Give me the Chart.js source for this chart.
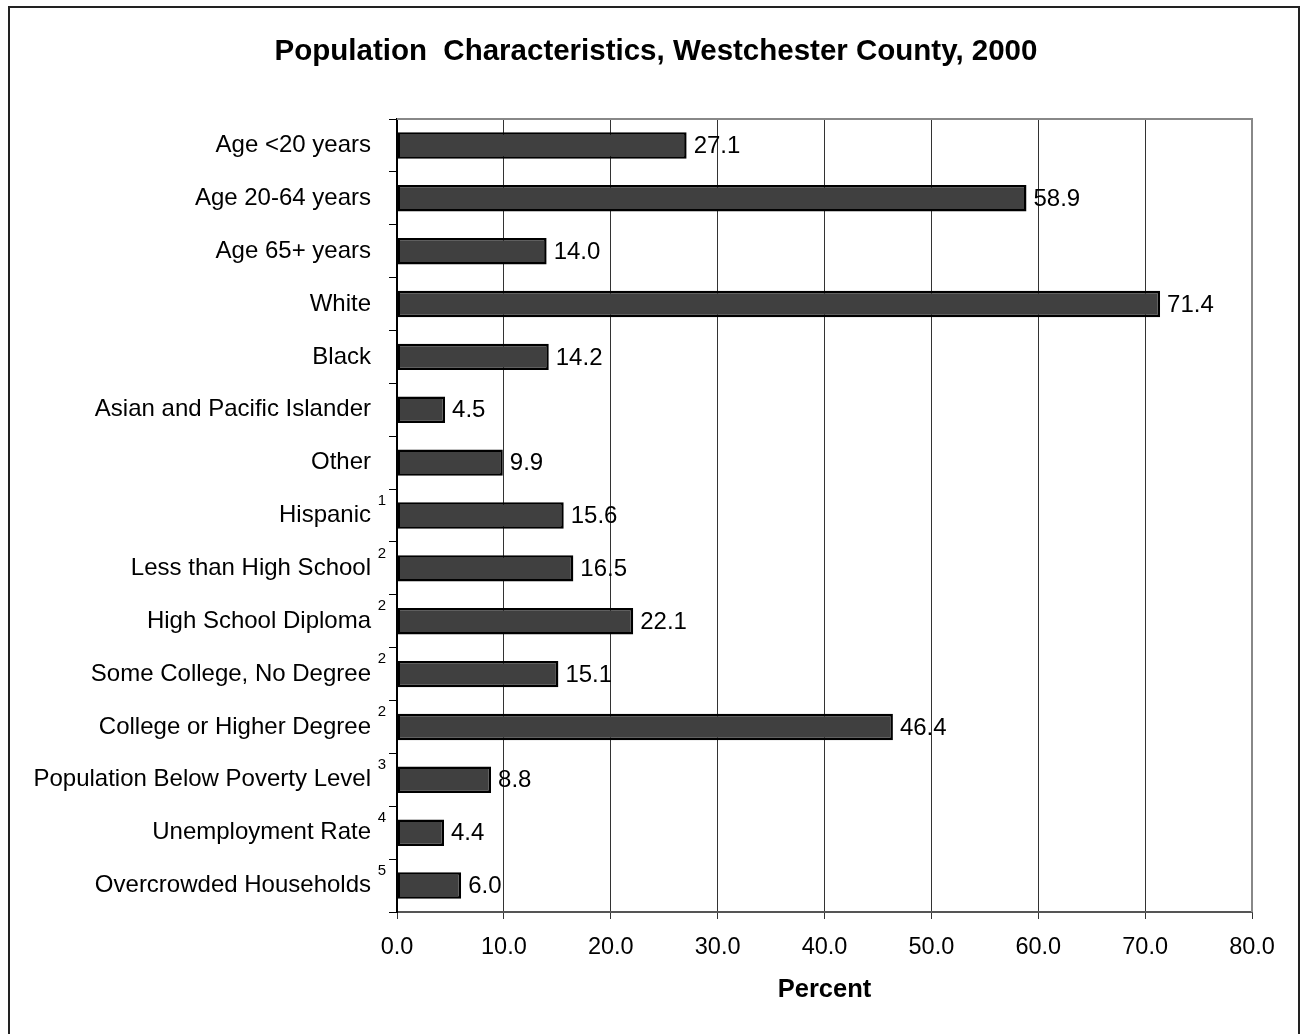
<!DOCTYPE html>
<html lang="en">
<head>
    <meta charset="UTF-8">
    <title>Population Characteristics, Westchester County, 2000</title>
    <script src="https://cdn.jsdelivr.net/npm/chart.js"></script>
    <style>
        html, body { margin: 0; padding: 0; background: #fff; }
        #wrap { width: 1301px; height: 1034px; }
    </style>
</head>
<body>
    <div id="wrap">
        <canvas id="chart" width="1301" height="1034"></canvas>
    </div>

    <script>
        const categories = [
            'Age <20 years', 'Age 20-64 years', 'Age 65+ years', 'White', 'Black',
            'Asian and Pacific Islander', 'Other', 'Hispanic', 'Less than High School',
            'High School Diploma', 'Some College, No Degree', 'College or Higher Degree',
            'Population Below Poverty Level', 'Unemployment Rate', 'Overcrowded Households'
        ];
        const footnotes = ['', '', '', '', '', '', '', '1', '2', '2', '2', '2', '3', '4', '5'];
        const percents = [27.1, 58.9, 14.0, 71.4, 14.2, 4.5, 9.9, 15.6, 16.5, 22.1, 15.1, 46.4, 8.8, 4.4, 6.0];

        const FONT = '"Liberation Sans", Arial, sans-serif';

        // title, frame, plot border, value labels, footnote marks
        const decorations = {
            id: 'decorations',
            beforeDraw(chart) {
                const ctx = chart.ctx;
                ctx.save();
                ctx.fillStyle = '#fff';
                ctx.fillRect(0, 0, chart.width, chart.height);
                ctx.restore();
            },
            afterDraw(chart) {
                const ctx = chart.ctx;
                const area = chart.chartArea;
                const yScale = chart.scales.y;
                ctx.save();

                // outer frame
                ctx.strokeStyle = '#222';
                ctx.lineWidth = 2;
                ctx.strokeRect(9, 7, 1290, 1100);

                // grey top / right edges of the plot
                ctx.strokeStyle = '#888';
                ctx.lineWidth = 2;
                ctx.beginPath();
                ctx.moveTo(area.left, area.top);
                ctx.lineTo(area.right, area.top);
                ctx.lineTo(area.right, area.bottom);
                ctx.stroke();

                // title
                ctx.fillStyle = '#000';
                ctx.font = 'bold 29.5px ' + FONT;
                ctx.textAlign = 'center';
                ctx.textBaseline = 'middle';
                ctx.fillText('Population  Characteristics, Westchester County, 2000', 656, 52);

                // value labels
                ctx.font = '24px ' + FONT;
                ctx.textAlign = 'left';
                chart.getDatasetMeta(0).data.forEach((bar, i) => {
                    ctx.fillText(percents[i].toFixed(1), bar.x + 7, bar.y + 1);
                });

                // footnote marks next to the category labels
                ctx.font = '15px ' + FONT;
                ctx.textAlign = 'center';
                footnotes.forEach((f, i) => {
                    if (!f) return;
                    ctx.fillText(f, 382, yScale.getPixelForValue(i) - 15);
                });
                ctx.restore();
            }
        };

        new Chart(document.getElementById('chart'), {
            type: 'bar',
            data: {
                labels: categories,
                datasets: [{
                    data: percents,
                    backgroundColor: '#404040',
                    borderColor: '#000',
                    borderWidth: 2.5,
                    borderSkipped: false,
                    barPercentage: 0.5,
                    categoryPercentage: 1
                }]
            },
            options: {
                indexAxis: 'y',
                responsive: false,
                animation: false,
                layout: { padding: { top: 119, right: 49, bottom: 0, left: 0 } },
                plugins: {
                    legend: { display: false },
                    tooltip: { enabled: false }
                },
                scales: {
                    x: {
                        min: 0,
                        max: 80,
                        ticks: {
                            stepSize: 10,
                            color: '#000',
                            padding: 14,
                            maxRotation: 0,
                            font: { family: FONT, size: 23.5 },
                            callback: v => v.toFixed(1)
                        },
                        grid: { color: '#333', lineWidth: 1, tickLength: 7 },
                        border: { display: true, color: '#555', width: 2 },
                        title: {
                            display: true,
                            text: 'Percent',
                            color: '#000',
                            font: { family: FONT, size: 25.5, weight: 'bold' },
                            padding: { top: 0, bottom: 29 }
                        },
                        afterFit: s => { s.height = 122; }
                    },
                    y: {
                        ticks: {
                            color: '#000',
                            padding: 18,
                            font: { family: FONT, size: 24 }
                        },
                        grid: {
                            offset: true,
                            drawOnChartArea: false,
                            color: '#000',
                            tickLength: 8
                        },
                        border: { display: true, color: '#000', width: 2 },
                        afterFit: s => { s.width = 397; }
                    }
                }
            },
            plugins: [decorations]
        });
    </script>
</body>
</html>
